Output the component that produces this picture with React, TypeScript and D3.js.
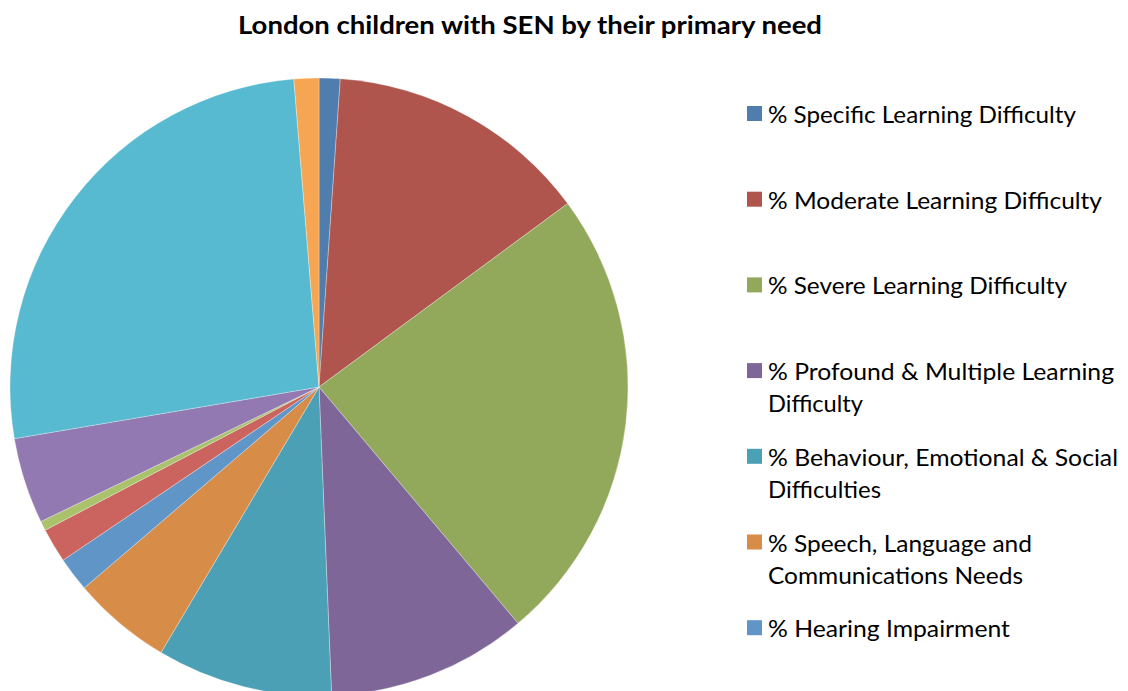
import React from "react";
import * as d3 from "d3";

const categories = [
  "% Specific Learning Difficulty",
  "% Moderate Learning Difficulty",
  "% Severe Learning Difficulty",
  "% Profound & Multiple Learning Difficulty",
  "% Behaviour, Emotional & Social Difficulties",
  "% Speech, Language and Communications Needs",
  "% Hearing Impairment",
  "% Visual Impairment",
  "% Multi-Sensory Impairment",
  "% Physical Disability",
  "% Autistic Spectrum Disorder",
  "% Other Difficulty/Disability",
];

const values = [1.1, 13.8, 24.0, 10.5, 9.2, 5.2, 1.8, 1.8, 0.5, 4.5, 26.4, 1.3];

const colors = [
  "#4E7DAE", "#AF554E", "#92A95B", "#7F6699", "#4BA0B5", "#D78C48",
  "#6095C8", "#CB645E", "#A9C26B", "#9279B1", "#58BAD0", "#F6A552",
];

// legend lines (visible legend entries, wrapped as in the reference)
const legendLines: string[][] = [
  ["% Specific Learning Difficulty"],
  ["% Moderate Learning Difficulty"],
  ["% Severe Learning Difficulty"],
  ["% Profound & Multiple Learning", "Difficulty"],
  ["% Behaviour, Emotional & Social", "Difficulties"],
  ["% Speech, Language and", "Communications Needs"],
  ["% Hearing Impairment"],
];
const legendWidths: number[][] = [
  [308], [334], [299], [346, 95], [350, 113], [264, 255], [242],
];

const title = "London children with SEN by their primary need";

export default function App() {
  const W = 1128, H = 691;
  const cx = 319, cy = 387, r = 309;
  const pie = d3.pie<number>().sort(null).value((d) => d);
  const arcs = pie(values);
  const arcGen = d3.arc<d3.PieArcDatum<number>>().innerRadius(0).outerRadius(r);

  return (
    <svg width={W} height={H} style={{ position: "absolute", left: 0, top: 0 }}>
      <rect width={W} height={H} fill="#fff" />
      <text
        x={530}
        y={34}
        textAnchor="middle"
        fontFamily="Lato, 'Open Sans', sans-serif"
        fontWeight="bold"
        fontSize={24}
        textLength={584}
        lengthAdjust="spacingAndGlyphs"
        fill="#000"
      >
        {title}
      </text>
      <g transform={`translate(${cx},${cy})`}>
        {arcs.map((a, i) => (
          <path
            key={i}
            d={arcGen(a) || ""}
            fill={colors[i]}
            stroke="#ffffff"
            strokeOpacity={0.5}
            strokeWidth={0.6}
          />
        ))}
      </g>
      <g>
        {legendLines.map((lines, i) => {
          const base = 123 + i * 85.7;
          return (
            <g key={i}>
              <rect x={747} y={base - 17} width={15} height={15} fill={colors[i]} />
              {lines.map((ln, j) => (
                <text
                  key={j}
                  x={768}
                  y={base + j * 32}
                  fontFamily="Lato, 'Open Sans', sans-serif"
                  fontSize={23}
                  textLength={legendWidths[i][j]}
                  lengthAdjust="spacingAndGlyphs"
                  fill="#000"
                >
                  {ln}
                </text>
              ))}
            </g>
          );
        })}
      </g>
    </svg>
  );
}
